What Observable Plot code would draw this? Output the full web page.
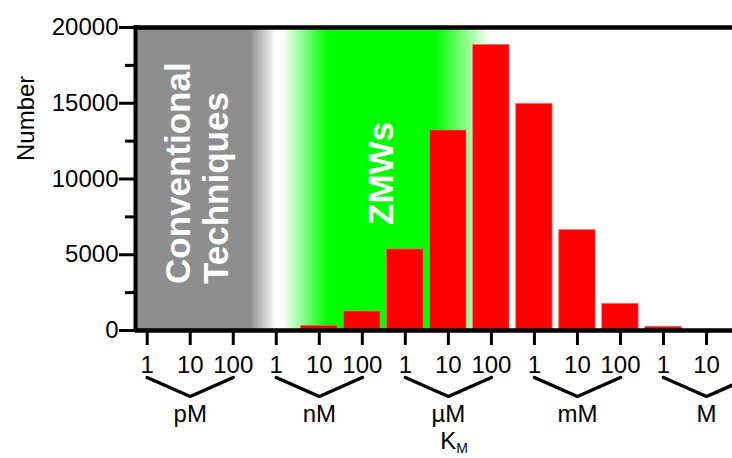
<!DOCTYPE html>
<html><head><meta charset="utf-8">
<script src="https://cdn.jsdelivr.net/npm/d3@7"></script>
<script src="https://cdn.jsdelivr.net/npm/@observablehq/plot@0.6"></script>
<style>html,body{margin:0;padding:0;background:#fff;}</style>
</head><body><div id="chart"></div>
<script>
// log10 of K_M in molar (10 nM ... 1 M), bar centres
const kmExponents = [-8, -7, -6, -5, -4, -3, -2, -1, 0];
const counts = [310, 1250, 5350, 13200, 18850, 14950, 6620, 1750, 245];
const tickExponents = [-12, -11, -10, -9, -8, -7, -6, -5, -4, -3, -2, -1, 0, 1];
const tickLabels = ["1", "10", "100"];
const unitLabels = ["pM", "nM", "µM", "mM", "M"];
const yMajor = [0, 5000, 10000, 15000, 20000];
const yMinor = [2500, 7500, 12500, 17500];
const regionLabels = ["Conventional", "Techniques", "ZMWs"];
const yLabel = "Number";
const xLabel = ["K", "M"];

const W = 732, H = 458, mL = 135, mR = 0, mT = 27, mB = 128;
const xDomain = [10 ** -12.272, 10 ** 1.604];
const halfW = 0.422; // half bar width, decades

const yS = Plot.scale({y: {domain: [0, 20000], range: [H - mB, mT]}});
const braceTop = yS.invert(377), braceApex = yS.invert(396);
const braces = [];
unitLabels.forEach((u, g) => {
  const e0 = -12 + 3 * g;
  braces.push({g, x: 10 ** e0, y: braceTop});
  braces.push({g, x: 10 ** (e0 + 1), y: braceApex});
  braces.push({g, x: 10 ** (e0 + 2), y: braceTop});
});

const bars = kmExponents.map((e, i) => ({e, n: counts[i]}));
const font = "'Liberation Sans', Arial, Helvetica, sans-serif";

const plot = Plot.plot({
  width: W, height: H,
  marginLeft: mL, marginRight: mR, marginTop: mT, marginBottom: mB,
  style: {fontFamily: font, background: "#fff", color: "#000"},
  x: {type: "log", domain: xDomain},
  y: {domain: [0, 20000]},
  marks: [
    Plot.rect([0], {x1: xDomain[0], x2: xDomain[1], y1: 0, y2: 20000, fill: "url(#bg)"}),
    Plot.rectY(bars, {x1: d => 10 ** (d.e - halfW), x2: d => 10 ** (d.e + halfW), y: "n", fill: "#ff0000", stroke: "#ff6060", strokeWidth: 0.7}),
    Plot.text([regionLabels[0]], {x: 1e-11, frameAnchor: "bottom", dy: -46.5, rotate: -90, textAnchor: "start", lineAnchor: "bottom", fontSize: 35, fontWeight: "bold", fill: "white"}),
    Plot.text([regionLabels[1]], {x: 1e-11, frameAnchor: "bottom", dx: 38, dy: -46.5, rotate: -90, textAnchor: "start", lineAnchor: "bottom", fontSize: 35, fontWeight: "bold", fill: "white"}),
    Plot.text([regionLabels[2]], {x: 1e-6, frameAnchor: "bottom", dx: -12, dy: -105.5, rotate: -90, textAnchor: "start", lineAnchor: "bottom", fontSize: 35, fontWeight: "bold", fill: "white"}),
    Plot.axisY({ticks: yMinor, tickSize: 10, strokeWidth: 3, tickFormat: () => "", label: null}),
    Plot.axisY({ticks: yMajor, tickFormat: d3.format("d"), tickSize: 16, tickPadding: 1, fontSize: 24, strokeWidth: 3, label: null}),
    Plot.axisX({ticks: tickExponents.map(e => 10 ** e), tickFormat: d => tickLabels[((Math.round(Math.log10(d)) % 3) + 3) % 3], tickSize: 15, tickPadding: 10, fontSize: 24, strokeWidth: 3, label: null}),
    Plot.ruleY([0], {strokeWidth: 4.5}),
    Plot.ruleY([20000], {strokeWidth: 4.5}),
    Plot.ruleX([xDomain[0]], {strokeWidth: 4, strokeLinecap: "square"}),
    Plot.line(braces, {x: "x", y: "y", z: "g", stroke: "black", strokeWidth: 3.5, strokeLinejoin: "miter"}),
    Plot.text(unitLabels, {x: (d, i) => 10 ** (-11 + 3 * i), frameAnchor: "bottom", dy: 91, lineAnchor: "bottom", fontSize: 24}),
    Plot.text([xLabel[0]], {x: 1e-5, frameAnchor: "bottom", dy: 118, lineAnchor: "bottom", fontSize: 24}),
    Plot.text([xLabel[1]], {x: 1e-5, frameAnchor: "bottom", dx: 8, dy: 122, textAnchor: "start", lineAnchor: "bottom", fontSize: 14}),
    Plot.text([yLabel], {frameAnchor: "left", dx: -102, dy: -18, rotate: -90, lineAnchor: "bottom", fontSize: 24})
  ]
});

// background gradient, positioned through the x scale
const xs = plot.scale("x");
const gx1 = xs.apply(xDomain[0]), gx2 = xs.apply(xDomain[1]);
const stops = [
  [-12.272, "#8e8e8e"], [-9.6, "#8e8e8e"], [-9.0, "#ffffff"], [-8.85, "#ffffff"],
  [-7.8, "#00ff00"], [-5.3, "#00ff00"], [-4.0, "#ffffff"], [1.604, "#ffffff"]
];
const defs = d3.select(plot).insert("defs", ":first-child");
const lg = defs.append("linearGradient").attr("id", "bg")
  .attr("gradientUnits", "userSpaceOnUse")
  .attr("x1", gx1).attr("x2", gx2).attr("y1", 0).attr("y2", 0);
stops.forEach(([e, c]) => {
  lg.append("stop").attr("offset", (xs.apply(10 ** e) - gx1) / (gx2 - gx1)).attr("stop-color", c);
});

document.getElementById("chart").appendChild(plot);
</script>
</body></html>
